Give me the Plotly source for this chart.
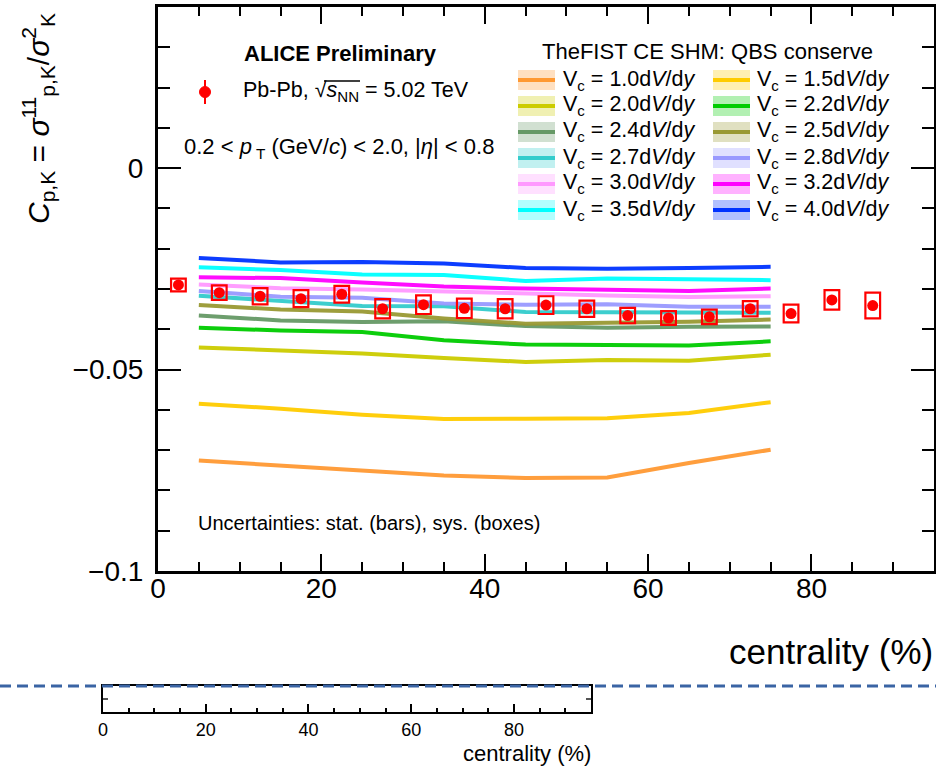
import plotly.graph_objects as go

# ---- measured data: p-K correlation vs centrality ----
cent_data = [2.5, 7.5, 12.5, 17.5, 22.5, 27.5, 32.5, 37.5, 42.5, 47.5,
             52.5, 57.5, 62.5, 67.5, 72.5, 77.5, 82.5, 87.5]
c_pk = [-0.0290, -0.0309, -0.0318, -0.0324, -0.0313, -0.0349, -0.0339, -0.0348, -0.0349,
        -0.0340, -0.0349, -0.0366, -0.0372, -0.0369, -0.0349, -0.0361, -0.0327, -0.0341]
c_pk_stat = [0.0006, 0.0006, 0.0006, 0.0006, 0.0006, 0.0007, 0.0007, 0.0007, 0.0007,
             0.0007, 0.0007, 0.0007, 0.0007, 0.0007, 0.0007, 0.0008, 0.0009, 0.0010]
c_pk_sys = [0.0016, 0.0018, 0.0020, 0.0021, 0.0021, 0.0024, 0.0023, 0.0024, 0.0024,
            0.0022, 0.0020, 0.0019, 0.0017, 0.0018, 0.0019, 0.0022, 0.0024, 0.0032]
sys_halfwidth = 0.9  # half width of systematic boxes (centrality %)

# ---- Thermal-FIST CE SHM curves ----
cent_model = [5, 15, 25, 35, 45, 55, 65, 75]
vc_labels = ["1.0", "1.5", "2.0", "2.2", "2.4", "2.5", "2.7", "2.8", "3.0", "3.2", "3.5", "4.0"]
vc_10 = [-0.0726, -0.0738, -0.0751, -0.0763, -0.0769, -0.0768, -0.0732, -0.0699]
vc_15 = [-0.0585, -0.0597, -0.0612, -0.0623, -0.0622, -0.0621, -0.0608, -0.0581]
vc_20 = [-0.0445, -0.0452, -0.0460, -0.0471, -0.0481, -0.0476, -0.0478, -0.0463]
vc_22 = [-0.0396, -0.0403, -0.0407, -0.0427, -0.0438, -0.0438, -0.0440, -0.0430]
vc_24 = [-0.0366, -0.0378, -0.0382, -0.0380, -0.0392, -0.0396, -0.0394, -0.0393]
vc_25 = [-0.0340, -0.0351, -0.0356, -0.0373, -0.0386, -0.0384, -0.0381, -0.0376]
vc_27 = [-0.0317, -0.0330, -0.0342, -0.0343, -0.0357, -0.0358, -0.0359, -0.0359]
vc_28 = [-0.0305, -0.0319, -0.0322, -0.0336, -0.0339, -0.0338, -0.0344, -0.0344]
vc_30 = [-0.0289, -0.0298, -0.0301, -0.0306, -0.0313, -0.0316, -0.0320, -0.0318]
vc_32 = [-0.0271, -0.0273, -0.0284, -0.0294, -0.0299, -0.0302, -0.0305, -0.0299]
vc_35 = [-0.0246, -0.0253, -0.0264, -0.0265, -0.0280, -0.0274, -0.0276, -0.0278]
vc_40 = [-0.0223, -0.0234, -0.0233, -0.0237, -0.0248, -0.0250, -0.0248, -0.0245]
vc_values = [vc_10, vc_15, vc_20, vc_22, vc_24, vc_25, vc_27, vc_28, vc_30, vc_32, vc_35, vc_40]
vc_colors = ["#ff9933", "#ffcc00", "#cccc00", "#00cc00", "#669966", "#999933",
             "#33cccc", "#9999ff", "#ff99ff", "#ff00ff", "#00ffff", "#0033ff"]

# axis ticks
y_tickvals = [-0.1, -0.05, 0]
y_ticktext = ["\u22120.1", "\u22120.05", "0"]
x_tickvals = [0, 20, 40, 60, 80]

W, H = 936, 769
FONT = "Liberation Sans, Arial, Helvetica, sans-serif"


def px(x):
    return x / W


def py(y):
    return 1 - y / H


def rgba(hexcol, a):
    h = hexcol.lstrip("#")
    r, g, b = int(h[0:2], 16), int(h[2:4], 16), int(h[4:6], 16)
    return f"rgba({r},{g},{b},{a})"


fig = go.Figure()

# model curves
for lab, vals, col in zip(vc_labels, vc_values, vc_colors):
    fig.add_trace(go.Scatter(
        x=cent_model, y=vals, mode="lines", name=f"Vc = {lab}",
        line=dict(color=col, width=4), opacity=0.95, showlegend=False,
        hoverinfo="skip"))

shapes = []
# systematic boxes
for c, v, s in zip(cent_data, c_pk, c_pk_sys):
    shapes.append(dict(type="rect", xref="x", yref="y",
                       x0=c - sys_halfwidth, x1=c + sys_halfwidth, y0=v - s, y1=v + s,
                       line=dict(color="#ff0000", width=2.2), fillcolor="rgba(0,0,0,0)",
                       layer="above"))

# data points with statistical errors
fig.add_trace(go.Scatter(
    x=cent_data, y=c_pk, mode="markers", name="Pb-Pb",
    marker=dict(symbol="circle", size=11, color="#ff0000"),
    error_y=dict(type="data", array=c_pk_stat, color="#ff0000", thickness=2, width=0),
    showlegend=False))

# placeholder trace so the small lower axis is built
fig.add_trace(go.Scatter(x=[None], y=[None], xaxis="x2", yaxis="y2", showlegend=False))

annotations = []


def text(x, y, s, size, anchor="left", bold=False, **kw):
    annotations.append(dict(
        x=px(x), y=py(y), xref="paper", yref="paper", text=f"<b>{s}</b>" if bold else s,
        showarrow=False, xanchor=anchor, yanchor="middle",
        font=dict(family=FONT, size=size, color="black"), **kw))


# headers
text(242, 53, "ALICE Preliminary", 22, bold=True)
text(241, 92, "Pb-Pb, \u221a<i>s</i><sub>NN</sub> = 5.02 TeV", 21.5)
text(182, 148, "0.2 < <i>p</i><sub> T</sub> (GeV/<i>c</i>) < 2.0, |<i>\u03b7</i>| < 0.8", 22)
text(196, 523, "Uncertainties: stat. (bars), sys. (boxes)", 20)

# overline of the square root
shapes.append(dict(type="line", xref="paper", yref="paper",
                   x0=px(324), x1=px(360), y0=py(81), y1=py(81),
                   line=dict(color="black", width=1.5)))

# data legend marker
shapes.append(dict(type="line", xref="paper", yref="paper",
                   x0=px(205), x1=px(205), y0=py(80), y1=py(104),
                   line=dict(color="#ff0000", width=2)))
shapes.append(dict(type="circle", xref="paper", yref="paper",
                   x0=px(199.5), x1=px(210.5), y0=py(97.5), y1=py(86.5),
                   line=dict(color="#ff0000", width=1), fillcolor="#ff0000"))

# model legend
text(707, 52, "TheFIST CE SHM: QBS conserve", 22, anchor="center")
row_y = [80, 106, 132, 158, 184, 210]
col_key = [(518, 555, 561), (713, 750, 755)]
for i, (lab, col) in enumerate(zip(vc_labels, vc_colors)):
    r, k = divmod(i, 2)
    x0, x1, xt = col_key[k]
    yc = row_y[r]
    shapes.append(dict(type="rect", xref="paper", yref="paper",
                       x0=px(x0), x1=px(x1), y0=py(yc + 10), y1=py(yc - 10),
                       line=dict(width=0), fillcolor=rgba(col, 0.3)))
    shapes.append(dict(type="line", xref="paper", yref="paper",
                       x0=px(x0), x1=px(x1), y0=py(yc), y1=py(yc),
                       line=dict(color=col, width=4)))
    text(xt, yc, f"V<sub>c</sub> = {lab}d<i>V</i>/d<i>y</i>", 21.5)

# axis titles
text(935, 651, "centrality (%)", 35, anchor="right")
annotations.append(dict(
    x=px(38), y=py(119), xref="paper", yref="paper", showarrow=False,
    text="<i>C</i><sub>p,K</sub> = <i>\u03c3</i><sup>11</sup><sub>p,K</sub>/<i>\u03c3</i><sup>2</sup><sub>K</sub>",
    textangle=-90, xanchor="center", yanchor="middle",
    font=dict(family=FONT, size=30, color="black")))
text(593, 753, "centrality (%)", 22, anchor="right")

# dashed separator
shapes.append(dict(type="line", xref="paper", yref="paper",
                   x0=0, x1=1, y0=py(686), y1=py(686),
                   line=dict(color="#3a64a4", width=3, dash="11px,6px")))

fig.update_layout(
    width=W, height=H, margin=dict(l=0, r=0, t=0, b=0, pad=0), autosize=False,
    paper_bgcolor="white", plot_bgcolor="white", showlegend=False,
    font=dict(family=FONT, color="black"),
    shapes=shapes, annotations=annotations,
    xaxis=dict(domain=[px(158), px(934)], range=[0, 95], anchor="y", automargin=False,
               showline=True, linecolor="black", linewidth=3, mirror="ticks",
               ticks="inside", ticklen=17, tickwidth=2, tickcolor="black",
               tickvals=x_tickvals, tickfont=dict(size=28, family=FONT),
               ticklabelstandoff=-10,
               minor=dict(dtick=5, tick0=0, ticks="inside", ticklen=9, tickwidth=2,
                          tickcolor="black", showgrid=False),
               showgrid=False, zeroline=False),
    yaxis=dict(domain=[py(571), py(7)], range=[-0.1, 0.04], anchor="x", automargin=False,
               showline=True, linecolor="black", linewidth=3, mirror="ticks",
               ticks="inside", ticklen=23, tickwidth=2, tickcolor="black",
               tickvals=y_tickvals, ticktext=y_ticktext, ticklabelstandoff=6,
               tickfont=dict(size=28, family=FONT),
               minor=dict(dtick=0.01, tick0=0, ticks="inside", ticklen=12, tickwidth=2,
                          tickcolor="black", showgrid=False),
               showgrid=False, zeroline=False),
    xaxis2=dict(domain=[px(103), px(591)], range=[0, 95], anchor="y2", automargin=False,
                showline=True, linecolor="black", linewidth=2, mirror=True,
                ticks="inside", ticklen=8, tickwidth=1.5, tickcolor="black",
                tickvals=x_tickvals, tickfont=dict(size=18, family=FONT),
                minor=dict(dtick=5, tick0=0, ticks="inside", ticklen=4, tickwidth=1.5,
                           tickcolor="black", showgrid=False),
                showgrid=False, zeroline=False),
    yaxis2=dict(domain=[py(712), py(686)], range=[0, 1], anchor="x2", automargin=False,
                showline=True, linecolor="black", linewidth=2, mirror="ticks",
                ticks="inside", ticklen=5, tickwidth=1.5, tickcolor="#555555",
                tickvals=[0.5], showticklabels=False,
                showgrid=False, zeroline=False),
)

fig.write_html("out.html")
